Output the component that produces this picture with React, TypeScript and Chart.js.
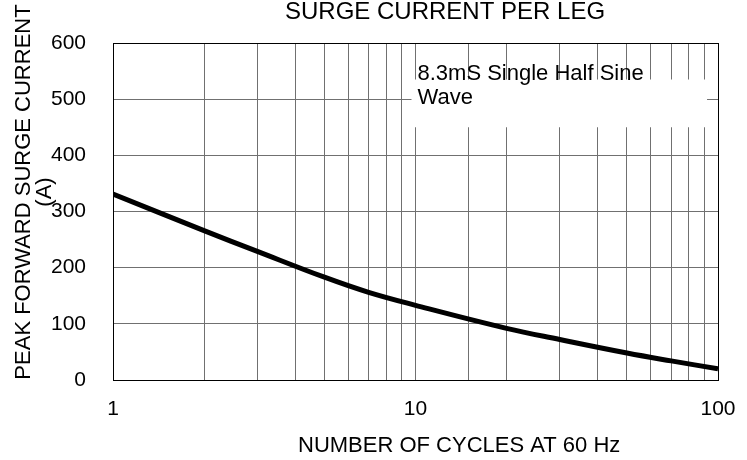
import React, { useEffect, useRef } from "react";
import { Chart, registerables } from "chart.js";

Chart.register(...registerables);

const cycles = [1, 2, 3, 5, 7, 10, 20, 30, 50, 70, 100];
const surgeCurrent = [331, 266, 229, 183, 156, 133, 92, 72, 48, 34, 20];
const xTickLabels = [1, 10, 100];
const yTicks = [0, 100, 200, 300, 400, 500, 600];

const chartTitle = "SURGE CURRENT PER LEG";
const yTitleLine1 = "PEAK FORWARD SURGE CURRENT";
const yTitleLine2 = "(A)";
const xTitle = "NUMBER OF CYCLES AT 60 Hz";
const noteLines = ["8.3mS Single Half Sine", "Wave"];

const FONT = '"Liberation Sans", Arial, sans-serif';

export default function App() {
  const ref = useRef<HTMLCanvasElement | null>(null);

  useEffect(() => {
    if (!ref.current) return;
    const decor = {
      id: "decor",
      beforeDatasetsDraw(chart: any) {
        const ctx = chart.ctx;
        const x = chart.scales.x;
        const y = chart.scales.y;
        ctx.save();
        ctx.fillStyle = "#ffffff";
        const bx1 = x.getPixelForValue(10) - 4;
        const bx2 = x.getPixelForValue(92);
        const by1 = y.getPixelForValue(535);
        const by2 = y.getPixelForValue(450);
        ctx.fillRect(bx1, by1, bx2 - bx1, by2 - by1);
        ctx.fillStyle = "#000";
        ctx.font = `22px ${FONT}`;
        ctx.textAlign = "left";
        ctx.textBaseline = "alphabetic";
        ctx.fillText(noteLines[0], bx1 + 6, 80);
        ctx.fillText(noteLines[1], bx1 + 6, 104);
        ctx.restore();
      },
      afterDraw(chart: any) {
        const ctx = chart.ctx;
        const a = chart.chartArea;
        ctx.save();
        ctx.strokeStyle = "#000";
        ctx.lineWidth = 1;
        ctx.strokeRect(Math.round(a.left) + 0.5, Math.round(a.top) + 0.5, Math.round(a.right - a.left), Math.round(a.bottom - a.top));
        ctx.fillStyle = "#000";
        ctx.textBaseline = "middle";
        ctx.textAlign = "left";
        ctx.font = `24px ${FONT}`;
        ctx.fillText(chartTitle, 285, 12);
        ctx.font = `22px ${FONT}`;
        ctx.fillText(xTitle, 298, 446);
        ctx.textAlign = "center";
        ctx.save();
        ctx.translate(24, 192);
        ctx.rotate(-Math.PI / 2);
        ctx.fillText(yTitleLine1, 0, 0);
        ctx.restore();
        ctx.save();
        ctx.translate(45, 192);
        ctx.rotate(-Math.PI / 2);
        ctx.fillText(yTitleLine2, 0, 0);
        ctx.restore();
        ctx.restore();
      },
    };

    const chart = new Chart(ref.current, {
      type: "line",
      data: {
        datasets: [
          {
            data: cycles.map((c, i) => ({ x: c, y: surgeCurrent[i] })),
            borderColor: "#000",
            borderWidth: 5,
            pointRadius: 0,
            fill: false,
            tension: 0.4,
          },
        ],
      },
      options: {
        animation: false,
        responsive: false,
        maintainAspectRatio: false,
        layout: { padding: { top: 43, right: 29, left: 0, bottom: 0 } },
        plugins: { legend: { display: false }, tooltip: { enabled: false }, title: { display: false } },
        scales: {
          x: {
            type: "logarithmic",
            min: 1,
            max: 100,
            afterFit(scale: any) {
              scale.height = 80;
              scale.paddingLeft = 0;
              scale.paddingRight = 0;
            },
            grid: { color: "#707070", lineWidth: 1, drawTicks: false },
            border: { color: "#000" },
            ticks: {
              autoSkip: false,
              maxRotation: 0,
              padding: 17,
              color: "#000",
              font: { family: FONT, size: 21 },
              callback: (v: any) => (xTickLabels.includes(Number(v)) ? String(v) : ""),
            },
          },
          y: {
            min: 0,
            max: 600,
            afterFit(scale: any) {
              scale.width = 113;
            },
            afterBuildTicks(scale: any) {
              scale.ticks = yTicks.map((v) => ({ value: v }));
            },
            grid: { color: "#707070", lineWidth: 1, drawTicks: false },
            border: { color: "#000" },
            ticks: {
              padding: 27,
              color: "#000",
              font: { family: FONT, size: 21 },
            },
          },
        },
      },
      plugins: [decor],
    } as any);
    return () => chart.destroy();
  }, []);

  return (
    <div style={{ position: "absolute", left: 0, top: 0, width: 747, height: 460, background: "#fff" }}>
      <canvas ref={ref} width={747} height={460} style={{ width: 747, height: 460 }} />
    </div>
  );
}
